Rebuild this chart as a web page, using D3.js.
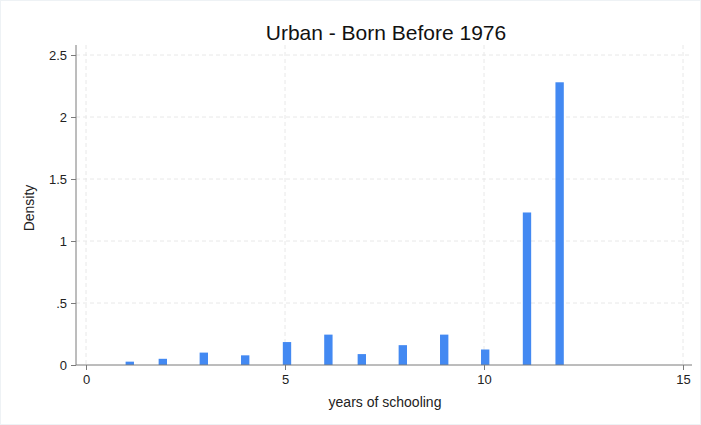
<!DOCTYPE html>
<html>
<head>
<meta charset="utf-8">
<script src="https://cdn.jsdelivr.net/npm/d3@7"></script>
<style>
  body { margin: 0; background: #fff; }
  svg { display: block; font-family: "Liberation Sans", Arial, sans-serif; }
</style>
</head>
<body>
<div id="chart"></div>
<script>
// bin centres (years of schooling) and density heights
const binCenters = [1.1, 1.93, 2.96, 4.0, 5.05, 6.09, 6.93, 7.96, 9.0, 10.03, 11.08, 11.9];
const densities = [0.027, 0.05, 0.1, 0.078, 0.185, 0.245, 0.088, 0.16, 0.245, 0.125, 1.23, 2.28];
const xTicks = [0, 5, 10, 15];
const yTicks = [0, 0.5, 1, 1.5, 2, 2.5];
const yTickLabels = ['0', '.5', '1', '1.5', '2', '2.5'];

const width = 701, height = 425;
const svg = d3.select('#chart').append('svg')
  .attr('width', width)
  .attr('height', height);

svg.append('rect')
  .attr('x', 0.5).attr('y', 0.5)
  .attr('width', width - 1).attr('height', height - 1)
  .attr('fill', '#fff')
  .attr('stroke', '#eef2f5');

// plot region
const plotLeft = 76, plotRight = 692, plotTop = 45, plotBottom = 365;

const x = d3.scaleLinear().domain([0, 15]).range([86, 683]);
const y = d3.scaleLinear().domain([0, 2.5]).range([plotBottom, 55]);

// grid
const grid = svg.append('g').attr('stroke', '#e8e8e8').attr('stroke-dasharray', '4,3');
grid.selectAll('.hg')
  .data(yTicks.filter(d => d > 0))
  .enter().append('line')
  .attr('x1', plotLeft).attr('x2', plotRight)
  .attr('y1', d => y(d)).attr('y2', d => y(d));
grid.selectAll('.vg')
  .data(xTicks)
  .enter().append('line')
  .attr('x1', d => x(d)).attr('x2', d => x(d))
  .attr('y1', plotTop).attr('y2', plotBottom);

// bars
const barW = x(0.21) - x(0);
svg.selectAll('.bar')
  .data(binCenters)
  .enter().append('rect')
  .attr('class', 'bar')
  .attr('x', d => x(d) - barW / 2)
  .attr('width', barW)
  .attr('y', (d, i) => y(densities[i]))
  .attr('height', (d, i) => y(0) - y(densities[i]))
  .attr('fill', '#4389f2');

// x axis
const xAxis = svg.append('g')
  .attr('transform', `translate(0,${plotBottom})`)
  .call(d3.axisBottom(x).tickValues(xTicks).tickSize(5).tickPadding(5).tickFormat(d3.format('d')));
xAxis.select('.domain').attr('d', `M${plotLeft},0H${plotRight}`).attr('stroke', '#7a7a7a');
xAxis.selectAll('.tick line').attr('stroke', '#7a7a7a');
xAxis.selectAll('text').attr('fill', '#222').style('font-size', '13px');

// y axis
const yAxis = svg.append('g')
  .attr('transform', `translate(${plotLeft},0)`)
  .call(d3.axisLeft(y).tickValues(yTicks).tickSize(5).tickPadding(4)
    .tickFormat((d, i) => yTickLabels[i]));
yAxis.select('.domain').attr('d', `M0,${plotTop}V${plotBottom}`).attr('stroke', '#7a7a7a');
yAxis.selectAll('.tick line').attr('stroke', '#7a7a7a');
yAxis.selectAll('text').attr('fill', '#222').style('font-size', '13px');

// titles
svg.append('text')
  .attr('x', 386).attr('y', 40)
  .attr('text-anchor', 'middle')
  .attr('fill', '#111')
  .style('font-size', '21px')
  .text('Urban - Born Before 1976');

svg.append('text')
  .attr('x', 385).attr('y', 407)
  .attr('text-anchor', 'middle')
  .attr('fill', '#222')
  .style('font-size', '14px')
  .text('years of schooling');

svg.append('text')
  .attr('transform', 'translate(34,208) rotate(-90)')
  .attr('text-anchor', 'middle')
  .attr('fill', '#222')
  .style('font-size', '14px')
  .text('Density');
</script>
</body>
</html>
